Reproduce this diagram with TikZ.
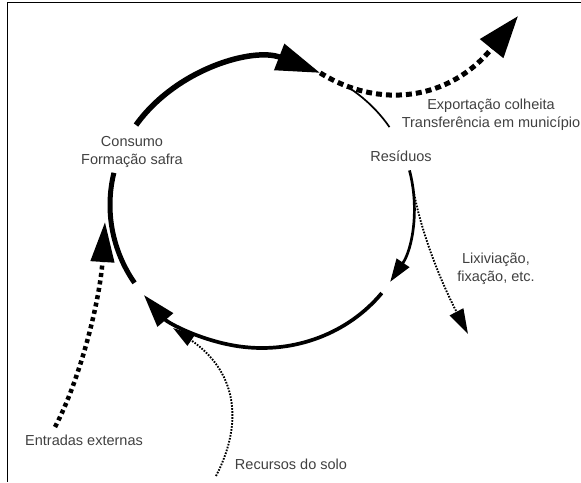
\documentclass[tikz,border=0pt]{standalone}
\usepackage{fontspec}
\setmainfont{Liberation Sans}
\usepackage{tikz}
\usetikzlibrary{arrows.meta}

\begin{document}
\begin{tikzpicture}[x=1pt,y=-1pt,
	lbl/.style={align=center,text=black!75,inner sep=0pt,font=\fontsize{14.5}{18}\selectfont},
	thin dots/.style={line width=1.9pt,dash pattern=on 1.6pt off 1.4pt},
	]
	\useasboundingbox (0,0) rectangle (581,482);
	\draw[line width=1.3pt] (581,2.7) -- (7.3,2.7) -- (7.3,482);
	\coordinate (c) at (262,205);
	\node[lbl] (consumo) at (132,152) {Consumo\\Formação safra};
	\node[lbl] (residuos) at (401,156) {Resíduos};
	\node[lbl] (export) at (491,115) {Exportação colheita\\Transferência em município};
	\node[lbl] (lixiv) at (496,269) {Lixiviação,\\fixação, etc.};
	\node[lbl] (entradas) at (84,440) {Entradas externas};
	\node[lbl] (recursos) at (291,464) {Recursos do solo};
	\path (c) ++(292.5:152 and 143) coordinate (harv);
	\path (c) ++(-8:152 and 143) coordinate (leach);
	\coordinate (exptip) at (518,16);
	\coordinate (entfrom) at (55,427);
	\coordinate (entto) at (105,222);
	\coordinate (recfrom) at (216,476);
	\coordinate (recto) at (173,328);
	\coordinate (lixto) at (468,334);
	\draw[line width=5.5pt,-{Triangle[length=44pt,width=27pt]}] (c) ++(214:152 and 143) arc[start angle=214,end angle=292.5,x radius=152,y radius=143];
	\draw[line width=1.7pt] (c) ++(-54:152 and 143) arc[start angle=-54,end angle=-33,x radius=152,y radius=143];
	\draw[line width=2.7pt,-{Triangle[length=23pt,width=15pt]}] (c) ++(-14:152 and 143) arc[start angle=-14,end angle=32.5,x radius=152,y radius=143];
	\draw[line width=3.7pt,-{Triangle[length=33pt,width=20pt]}] (c) ++(38:152 and 143) arc[start angle=38,end angle=141,x radius=152,y radius=143];
	\draw[line width=5pt] (c) ++(147:152 and 143) arc[start angle=147,end angle=193,x radius=152,y radius=143];
	\draw[line width=5pt,dash pattern=on 6pt off 4pt,-{Triangle[length=42pt,width=29pt]}] (harv) .. controls (380,110) and (450,100) .. (exptip);
	\draw[line width=4.5pt,dash pattern=on 4pt off 3.5pt,-{Triangle[length=40pt,width=23pt]}] (entfrom) .. controls (80,380) and (100,300) .. (entto);
	\draw[thin dots,-{Triangle[length=22pt,width=13pt]}] (recfrom) .. controls (245,420) and (235,370) .. (recto);
	\draw[thin dots,-{Triangle[length=25pt,width=15pt]}] (leach) .. controls (420,230) and (440,280) .. (lixto);
\end{tikzpicture}
\end{document}
